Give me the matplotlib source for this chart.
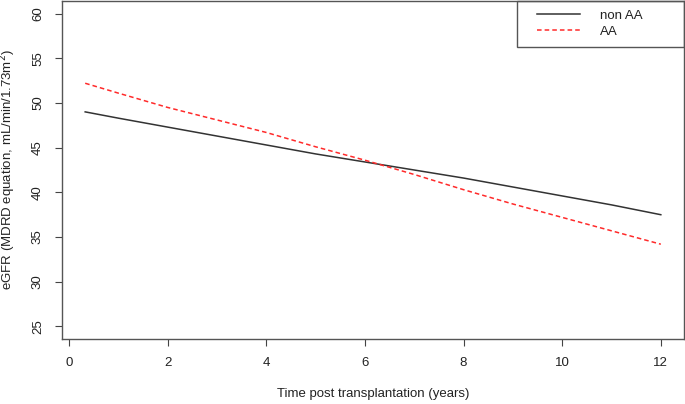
import matplotlib
matplotlib.use('Agg')
import matplotlib.pyplot as plt
from matplotlib.lines import Line2D
from matplotlib.patches import Rectangle

plt.rcParams['font.family'] = ['Liberation Sans', 'DejaVu Sans']

years = [0.33, 1, 2, 3, 4, 5, 6, 7, 8, 9, 10, 11, 12]
non_aa = [49.0, 48.3, 47.3, 46.3, 45.3, 44.3, 43.4, 42.5, 41.6, 40.6, 39.6, 38.6, 37.5]
aa = [52.2, 51.1, 49.5, 48.1, 46.7, 45.1, 43.6, 42.0, 40.3, 38.7, 37.2, 35.7, 34.2]

xticks = [0, 2, 4, 6, 8, 10, 12]
yticks = [25, 30, 35, 40, 45, 50, 55, 60]

fig = plt.figure(figsize=(6.85, 4.04), dpi=100)
ax = fig.add_axes([62 / 685, 65 / 404, 622 / 685, 338 / 404])

ax.plot(years, non_aa, color='#333333', lw=1.1, label='non AA')
ax.plot(years, aa, color='#ff2a2a', lw=1.1, ls=(0, (3, 2)), label='AA')

ax.set_xlim(-0.14, 12.47)
ax.set_ylim(23.6, 61.4)
ax.set_xticks(xticks)
ax.set_yticks(yticks)
ax.tick_params(direction='out', length=5, width=0.8, colors='#444444',
               labelcolor='#222222', labelsize=9.5, pad=8)
for lab in ax.get_yticklabels():
    lab.set_rotation(90)
    lab.set_va('center')
for s in ax.spines.values():
    s.set_color('#555555')
    s.set_linewidth(1)

ax.set_xlabel('Time post transplantation (years)', fontsize=9.5, color='#222222', labelpad=14)
ax.set_ylabel('eGFR (MDRD equation, mL/min/1.73m$^2$)', fontsize=9.5, color='#222222', labelpad=10)

# legend box drawn by hand, R-style
fig.patches.append(Rectangle((517 / 685, 357 / 404), 167 / 685, 46 / 404,
                             transform=fig.transFigure, fill=False,
                             edgecolor='#555555', lw=1, zorder=5))
handles = [Line2D([], [], color='#333333', lw=1.1),
           Line2D([], [], color='#ff2a2a', lw=1.1, ls=(0, (3, 2)))]
leg = ax.legend(handles, ['non AA', 'AA'], loc='upper left',
                bbox_to_anchor=(532 / 685, 400 / 404), bbox_transform=fig.transFigure,
                fontsize=9.5, frameon=False, borderaxespad=0,
                handlelength=3.25, handletextpad=1.5, borderpad=0.4, labelspacing=0.3)
for t in leg.get_texts():
    t.set_color('#222222')

fig.savefig('out.png', dpi=100)
